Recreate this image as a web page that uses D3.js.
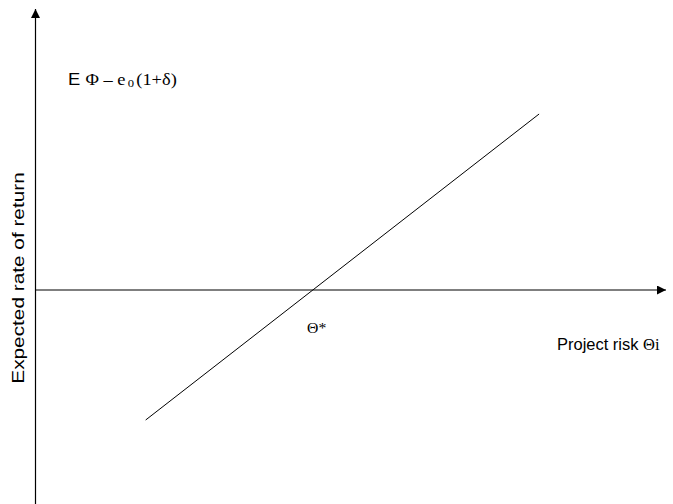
<!DOCTYPE html>
<html>
<head>
<meta charset="utf-8">
<script src="https://cdn.jsdelivr.net/npm/d3@7"></script>
<style>
  body { margin: 0; background: #fff; }
  svg { display: block; }
</style>
</head>
<body>
<div class="chart"></div>
<script>
// project risk (x) and expected rate of return (y) along the schedule
let riskValues = [0.175, 0.80];
let returnValues = [-0.65, 0.88];
let thetaStar = 0.441;

let width = 673, height = 504;

let svg = d3.select('div.chart').append('svg')
  .attr('width', width)
  .attr('height', height);

let x = d3.scaleLinear().domain([0, 1]).range([35.5, 665]);
let y = d3.scaleLinear().domain([-1, 1]).range([490, 90]);

let defs = svg.append('defs');
defs.append('marker')
  .attr('id', 'arrow')
  .attr('viewBox', '0 0 10 10')
  .attr('refX', 10).attr('refY', 5)
  .attr('markerWidth', 10).attr('markerHeight', 9)
  .attr('markerUnits', 'userSpaceOnUse')
  .attr('orient', 'auto')
  .append('path')
  .attr('d', 'M0,0 L10,5 L0,10 Z')
  .attr('fill', '#000');

// axes
svg.append('line')
  .attr('x1', x(0)).attr('y1', height)
  .attr('x2', x(0)).attr('y2', 9)
  .attr('stroke', '#000').attr('stroke-width', 1.2)
  .attr('marker-end', 'url(#arrow)');

svg.append('line')
  .attr('x1', x(0)).attr('y1', y(0))
  .attr('x2', x(1) + 1).attr('y2', y(0))
  .attr('stroke', '#000').attr('stroke-width', 1.2)
  .attr('marker-end', 'url(#arrow)');

// schedule line
let pts = riskValues.map((r, i) => [x(r), y(returnValues[i])]);
svg.append('path')
  .attr('d', d3.line()(pts))
  .attr('fill', 'none')
  .attr('stroke', '#000')
  .attr('stroke-width', 1);

// labels
let serif = 'Liberation Serif, Times New Roman, serif';
let sans = 'Liberation Sans, Arial, sans-serif';

let lbl = svg.append('text')
  .attr('transform', 'translate(68,85) scale(1.15,1)')
  .attr('font-size', 16)
  .attr('fill', '#000');
lbl.append('tspan').attr('font-family', sans).text('E ');
lbl.append('tspan').attr('font-family', serif).text('Φ – e');
lbl.append('tspan').attr('font-family', serif)
  .attr('font-size', 11).attr('dy', 2).attr('dx', 2).text('0');
lbl.append('tspan').attr('font-family', serif)
  .attr('dy', -2).attr('dx', 2).text('(1+δ)');

svg.append('text')
  .attr('transform', 'translate(' + (x(thetaStar) - 6) + ',333) scale(1.05,1)')
  .attr('font-family', serif)
  .attr('font-size', 15)
  .text('Θ*');

let xl = svg.append('text')
  .attr('transform', 'translate(557,350) scale(1.03,1)')
  .attr('font-family', sans)
  .attr('font-size', 16);
xl.append('tspan').text('Project risk ');
xl.append('tspan').attr('font-family', serif).attr('font-size', 16).text('Θi');

svg.append('text')
  .attr('transform', 'translate(24,278) rotate(-90) scale(1.3,1)')
  .attr('text-anchor', 'middle')
  .attr('font-family', sans)
  .attr('font-size', 16)
  .text('Expected rate of return');
</script>
</body>
</html>
